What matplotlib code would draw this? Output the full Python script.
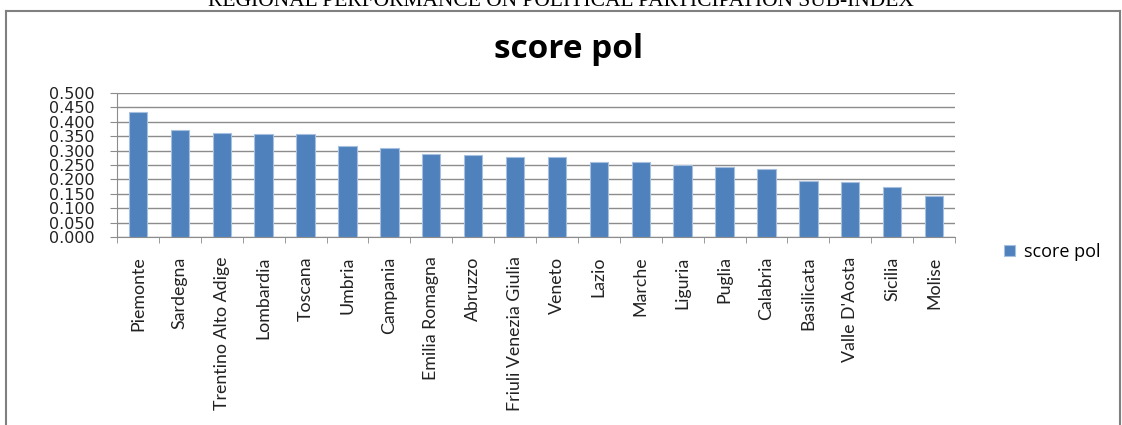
import matplotlib
matplotlib.use("Agg")
import matplotlib.pyplot as plt
from matplotlib.lines import Line2D
from matplotlib.ticker import FormatStrFormatter, FixedLocator

regioni = ["Piemonte", "Sardegna", "Trentino Alto Adige", "Lombardia", "Toscana",
           "Umbria", "Campania", "Emilia Romagna", "Abruzzo", "Friuli Venezia Giulia",
           "Veneto", "Lazio", "Marche", "Liguria", "Puglia", "Calabria",
           "Basilicata", "Valle D'Aosta", "Sicilia", "Molise"]
score_pol = [0.434, 0.370, 0.360, 0.358, 0.358, 0.316, 0.310, 0.287, 0.284, 0.277,
             0.277, 0.260, 0.260, 0.249, 0.243, 0.236, 0.193, 0.190, 0.174, 0.143]
y_ticks = [i * 0.05 for i in range(11)]

fig = plt.figure(figsize=(11.22, 4.25), dpi=100)
ax = fig.add_axes([117 / 1122, 1 - 237 / 425, (955 - 117) / 1122, (237 - 93) / 425])

x = list(range(len(regioni)))
ax.bar(x, score_pol, width=0.44, color="#4F81BD", edgecolor="#A7C0E0",
       linewidth=0.8, label="score pol", zorder=3)

ax.set_xlim(-0.5, len(regioni) - 0.5)
ax.set_ylim(0, 0.5)
ax.set_yticks(y_ticks)
ax.yaxis.set_major_formatter(FormatStrFormatter("%.3f"))
ax.grid(axis="y", color="#8C8C8C", linewidth=1.0, zorder=0)

ax.set_xticks(x)
ax.set_xticklabels(regioni, rotation=90, fontsize=12.8, family="Lato", color="#222222")
ax.xaxis.set_minor_locator(FixedLocator([i - 0.5 for i in range(len(regioni) + 1)]))
ax.tick_params(axis="x", which="major", length=0, pad=14)
ax.tick_params(axis="x", which="minor", length=4.5, color="#8C8C8C", direction="out")
ax.tick_params(axis="y", length=5, color="#8C8C8C", labelsize=11.5, pad=11)
for lab in ax.get_yticklabels():
    lab.set_family("DejaVu Sans")
    lab.set_color("#222222")

for s in ["top", "right"]:
    ax.spines[s].set_visible(False)
for s in ["left", "bottom"]:
    ax.spines[s].set_color("#8C8C8C")

fig.text(0.507, 1 - 50 / 425, "score pol", ha="center", va="center",
         fontsize=24, fontweight="bold", family="Open Sans")

fig.legend(loc="center left", bbox_to_anchor=(988 / 1122, 1 - 252 / 425),
           frameon=False, prop={"family": "Open Sans", "size": 13},
           handlelength=0.6, handleheight=0.6, handletextpad=0.5)

# outer frame and cut-off report heading
fig.add_artist(Line2D([6 / 1122, 6 / 1122], [0, 1 - 11 / 425], color="#808080", lw=1.5))
fig.add_artist(Line2D([6 / 1122, 1120 / 1122], [1 - 11 / 425, 1 - 11 / 425], color="#808080", lw=1.5))
fig.add_artist(Line2D([1120 / 1122, 1120 / 1122], [0, 1 - 11 / 425], color="#808080", lw=1.5))
fig.text(0.5, 1 - 1 / 425, "REGIONAL PERFORMANCE ON POLITICAL PARTICIPATION SUB-INDEX",
         ha="center", va="center", fontsize=15.5, family="Liberation Serif")

fig.savefig("out.png", dpi=100)
